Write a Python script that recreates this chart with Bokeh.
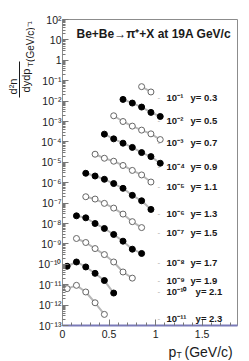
import math
from bokeh.plotting import figure
from bokeh.layouts import column, row
from bokeh.models import (Range1d, FixedTicker, CustomJSTickFormatter, Label,
                          BoxAnnotation, ColumnDataSource)
from bokeh.embed import file_html
from bokeh.resources import INLINE

# ---- data (yield before the 10^k scaling) ----
rapidity = [0.3, 0.5, 0.7, 0.9, 1.1, 1.3, 1.5, 1.7, 1.9, 2.1, 2.3]
scale_exp = [-1, -2, -3, -4, -5, -6, -7, -8, -9, -10, -11]
filled = [False, True, False, True, False, True, False, True, False, True, False]
pt_bins = [
    [0.85, 0.95],
    [0.65, 0.75, 0.85, 0.95, 1.05],
    [0.55, 0.65, 0.75, 0.85, 0.95, 1.05],
    [0.45, 0.55, 0.65, 0.75, 0.85, 0.95, 1.05],
    [0.35, 0.45, 0.55, 0.65, 0.75, 0.85, 0.95],
    [0.25, 0.35, 0.45, 0.55, 0.65, 0.75, 0.85, 0.95],
    [0.25, 0.35, 0.45, 0.55, 0.65, 0.75, 0.85],
    [0.15, 0.25, 0.35, 0.45, 0.55, 0.65, 0.75, 0.85],
    [0.15, 0.25, 0.35, 0.45, 0.55, 0.65, 0.75],
    [0.05, 0.15, 0.25, 0.35, 0.45, 0.55],
    [0.05, 0.15, 0.25, 0.35, 0.45],
]
yields = [
    [0.51, 0.28],
    [1.21, 0.80, 0.51, 0.28, 0.176],
    [1.91, 1.00, 0.594, 0.378, 0.248, 0.130],
    [2.40, 1.41, 0.865, 0.538, 0.30, 0.19, 0.09],
    [2.49, 1.58, 1.13, 0.70, 0.40, 0.24, 0.108],
    [2.90, 2.13, 1.47, 0.91, 0.53, 0.24, 0.13, 0.049],
    [2.05, 1.58, 0.97, 0.57, 0.29, 0.123, 0.063],
    [2.38, 1.90, 1.00, 0.57, 0.29, 0.136, 0.055, 0.034],
    [1.84, 1.17, 0.59, 0.30, 0.13, 0.042, 0.021],
    [0.80, 1.30, 0.74, 0.36, 0.16, 0.039],
    [0.64, 0.93, 0.44, 0.13, 0.035],
]
x_tick_values = [0, 0.5, 1, 1.5]
x_tick_labels = ["0", "0.5", "1", "1.5"]

# label anchor heights (log10 of y, in data space)
label_log_y = [-1.81, -2.95, -4.01, -5.21, -6.19, -7.52, -8.43, -9.90, -10.79, -11.32, -12.67]

FONT = "Liberation Sans"
TXT = "#1a1a1a"
SUP = {"-": "\u207b", "0": "\u2070", "1": "\u00b9", "2": "\u00b2", "3": "\u00b3",
       "4": "\u2074", "5": "\u2075", "6": "\u2076", "7": "\u2077", "8": "\u2078", "9": "\u2079"}


def sup(s):
    return "".join(SUP[c] for c in s)


MAIN_H = 343
YL_W = 35

# ---------------- main plot ----------------
p = figure(width=248 - YL_W, height=MAIN_H, x_range=Range1d(0, 1.88), y_range=Range1d(1e-13, 1e2),
           y_axis_type="log", output_backend="svg", toolbar_location=None,
           min_border_left=27, min_border_right=11, min_border_top=19, min_border_bottom=18)
p.grid.visible = False
p.background_fill_color = "white"
p.border_fill_color = "white"
p.outline_line_color = "#8c8c8c"
p.outline_line_width = 1

p.yaxis.ticker = FixedTicker(ticks=[10.0 ** k for k in range(-13, 3)],
                             minor_ticks=[m * 10.0 ** k for k in range(-13, 2) for m in range(2, 10)])
p.yaxis.formatter = CustomJSTickFormatter(code="""
const e = Math.round(Math.log10(tick));
if (e == 0) return "1";
if (e == 1) return "10";
const S = {"-":"\u207b","0":"\u2070","1":"\u00b9","2":"\u00b2","3":"\u00b3","4":"\u2074","5":"\u2075","6":"\u2076","7":"\u2077","8":"\u2078","9":"\u2079"};
return "10" + String(e).split("").map(c => S[c]).join("");
""")
p.xaxis.ticker = FixedTicker(ticks=x_tick_values, minor_ticks=[round(0.1 * i, 2) for i in range(0, 19)])
p.xaxis.major_label_overrides = {v: s for v, s in zip(x_tick_values, x_tick_labels)}

for ax in (p.xaxis[0], p.yaxis[0]):
    ax.major_label_text_font = FONT
    ax.major_label_text_font_size = "10.5px"
    ax.major_label_text_color = TXT
    ax.major_tick_in = 6
    ax.major_tick_out = 0
    ax.minor_tick_in = 3
    ax.minor_tick_out = 0
    ax.major_tick_line_color = "#777777"
    ax.minor_tick_line_color = "#777777"
    ax.axis_label = None
p.yaxis.axis_line_color = "#8c8c8c"
p.yaxis.major_label_standoff = 1
p.xaxis.axis_line_color = "#7a7ab8"
p.xaxis.axis_line_width = 2
p.xaxis.major_label_standoff = 4

for i in range(len(rapidity)):
    scale = 10.0 ** scale_exp[i]
    src = ColumnDataSource(dict(x=pt_bins[i], y=[v * scale for v in yields[i]]))
    p.line("x", "y", source=src, line_color="#b8b8b8", line_width=2)
    if filled[i]:
        p.scatter("x", "y", source=src, marker="circle", size=6, fill_color="black", line_color="black")
    else:
        p.scatter("x", "y", source=src, marker="circle", size=6, fill_color="white",
                  line_color="#666666", line_width=1)

    k = scale_exp[i]
    ly = 10.0 ** label_log_y[i]
    p.add_layout(Label(x=1.02, y=ly, text="-", text_font=FONT, text_font_size="8px",
                       text_color="#aaaaaa", text_baseline="middle"))
    p.add_layout(Label(x=1.118, y=ly, text="10" + sup(str(k)), text_font=FONT,
                       text_font_size="9.5px", text_font_style="bold", text_baseline="middle",
                       text_color=TXT))
    p.add_layout(Label(x=1.376 if k > -10 else 1.43, y=ly, text="y= %.1f" % rapidity[i],
                       text_font=FONT, text_font_size="9.5px", text_font_style="bold",
                       text_baseline="middle", text_color=TXT))

p.add_layout(Label(x=0.15, y=10 ** 1.31, text="Be+Be\u2192\u03c0\u207a+X at 19A GeV/c",
                   text_font=FONT, text_font_size="12px", text_font_style="bold",
                   text_baseline="middle", text_color=TXT))


def blank(w, h):
    f = figure(width=w, height=h, x_range=Range1d(0, 1), y_range=Range1d(0, 1),
               output_backend="svg", toolbar_location=None,
               x_axis_location=None, y_axis_location=None,
               min_border_left=0, min_border_right=0, min_border_top=0, min_border_bottom=0)
    f.grid.visible = False
    f.outline_line_color = None
    f.background_fill_color = "white"
    f.border_fill_color = "white"
    return f


# ---------------- y-axis title (rotated fraction) ----------------
# its frame is aligned with the main frame (bottom at page y 325)
yl = blank(YL_W, MAIN_H)


def ylab(text, x, y, size):
    yl.add_layout(Label(x=x, y=y, x_units="screen", y_units="screen", text=text, angle=math.pi / 2,
                        text_font=FONT, text_font_size=size, text_align="center",
                        text_baseline="middle", text_color=TXT))


ylab("d\u00b2n", 12, 239, "11px")
ylab("dydp", 25.5, 245, "11px")
ylab("T", 30, 261, "8px")
ylab("(GeV/c)\u207b\u00b9", 29.5, 284, "10px")
yl.add_layout(BoxAnnotation(left=18.5, right=19.5, bottom=228, top=264,
                            left_units="screen", right_units="screen",
                            top_units="screen", bottom_units="screen",
                            fill_color=TXT, fill_alpha=1, line_alpha=0))

# ---------------- x-axis title ----------------
xl = blank(248, 360 - MAIN_H)
xl.add_layout(Label(x=168, y=8.5, x_units="screen", y_units="screen", text="p",
                    text_font=FONT, text_font_size="14px", text_baseline="middle", text_color=TXT))
xl.add_layout(Label(x=176, y=5.5, x_units="screen", y_units="screen", text="T",
                    text_font=FONT, text_font_size="8.5px", text_baseline="middle", text_color=TXT))
xl.add_layout(Label(x=184, y=8.5, x_units="screen", y_units="screen", text="(GeV/c)",
                    text_font=FONT, text_font_size="14px", text_baseline="middle", text_color=TXT))

layout = column(row(yl, p), xl)
open("out.html", "w").write(file_html(layout, INLINE))
